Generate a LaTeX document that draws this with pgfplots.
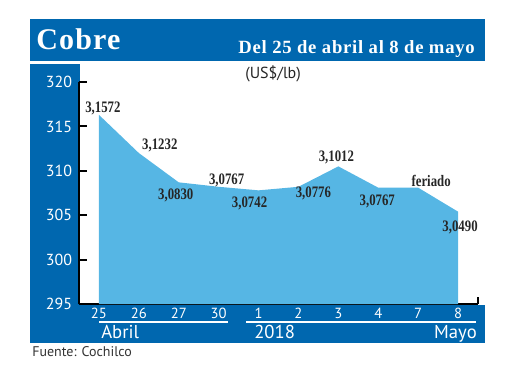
\documentclass[border=0pt]{standalone}
\usepackage{pgfplots}
\pgfplotsset{compat=1.18}
\usepackage{fontspec}
\setmainfont{PT Sans}
\newfontfamily\serif{Liberation Serif}
\newfontfamily\serifsp{Liberation Serif}[LetterSpace=4]
\newfontfamily\serifc{Liberation Serif}[FakeStretch=0.8]
\definecolor{hdr}{HTML}{0067AF}
\definecolor{fillb}{HTML}{56B6E4}
\begin{document}
\begin{tikzpicture}
\begin{scope}[x=0.75pt,y=-0.75pt]
\path (0,0) rectangle (520,390);
\fill[hdr] (30,19) rectangle (485,61);
\fill[hdr] (30,64) rectangle (80,343);
\fill[hdr] (30,305) rectangle (485,343);
\node[anchor=base west, inner sep=0pt, text=white, font=\serifsp\bfseries\fontsize{22.5}{25}\selectfont] at (36,49.5) {Cobre};
\node[anchor=base east, inner sep=0pt, text=white, font=\serifsp\bfseries\fontsize{14}{16}\selectfont] at (475,53) {Del 25 de abril al 8 de mayo};
\node[anchor=base west, inner sep=0pt, text=black!85, font=\fontsize{12}{14}\selectfont] at (245,78) {(US\$/lb)};
\draw[white, line width=0.8pt] (99,322) -- (228,322);
\draw[white, line width=0.8pt] (246,322) -- (476,322);
\node[anchor=base west, inner sep=0pt, text=white, font=\fontsize{14}{16}\selectfont] at (101,338) {Abril};
\node[anchor=base west, inner sep=0pt, text=white, font=\fontsize{14}{16}\selectfont] at (254,338) {2018};
\node[anchor=base east, inner sep=0pt, text=white, font=\fontsize{14}{16}\selectfont] at (477,338) {Mayo};
\node[anchor=base west, inner sep=0pt, text=black!80, font=\fontsize{10.5}{12}\selectfont] at (32,356) {Fuente: Cochilco};
\end{scope}
\begin{axis}[
  at={(59.25pt,-228pt)}, anchor=south west,
  scale only axis, width=299.25pt, height=166.5pt,
  xmin=-0.5, xmax=9.5, ymin=295, ymax=320,
  axis x line*=bottom, axis y line*=left,
  axis line style={black, line width=1.5pt, -},
  xtick={0,...,9}, xticklabels={25,26,27,30,1,2,3,4,7,8},
  ytick={295,300,305,310,315,320},
  /pgf/number format/assume math mode=true,
  tick align=inside, major tick length=6pt,
  ytick style={black, line width=1.5pt},
  xtick style={draw=none},
  yticklabel style={text=white, inner sep=0pt, xshift=-5pt, font=\fontsize{12}{14}\selectfont},
  xticklabel style={text=white, inner sep=0pt, yshift=-3pt, font=\fontsize{11}{13}\selectfont},
  clip=false,
]
\addplot[fill=fillb, draw=none] coordinates {
 (0,295) (0,316.3) (1,312.0) (2,308.7) (3,308.2) (4,307.8) (5,308.2) (6,310.5) (7,308.1) (8,308.1) (9,305.4) (9,295)
};
\draw[black, line width=1.5pt] (axis cs:9.5,295) -- (axis cs:9.5,295.8);
\begin{scope}[every node/.style={font=\serifc\bfseries\fontsize{12}{14}\selectfont, text=black!85, inner sep=0pt}]
\node at (axis cs:0.1,317.07) {3,1572};
\node at (axis cs:1.525,312.9) {3,1232};
\node at (axis cs:1.925,307.27) {3,0830};
\node at (axis cs:3.2,308.96) {3,0767};
\node at (axis cs:3.775,306.37) {3,0742};
\node at (axis cs:5.375,307.5) {3,0776};
\node at (axis cs:5.95,311.55) {3,1012};
\node at (axis cs:6.975,306.6) {3,0767};
\node at (axis cs:8.325,308.85) {feriado};
\node at (axis cs:9.05,303.67) {3,0490};
\end{scope}
\end{axis}
\pgfresetboundingbox
\path[use as bounding box] (0,0) rectangle (390pt,-292.5pt);
\end{tikzpicture}
\end{document}
